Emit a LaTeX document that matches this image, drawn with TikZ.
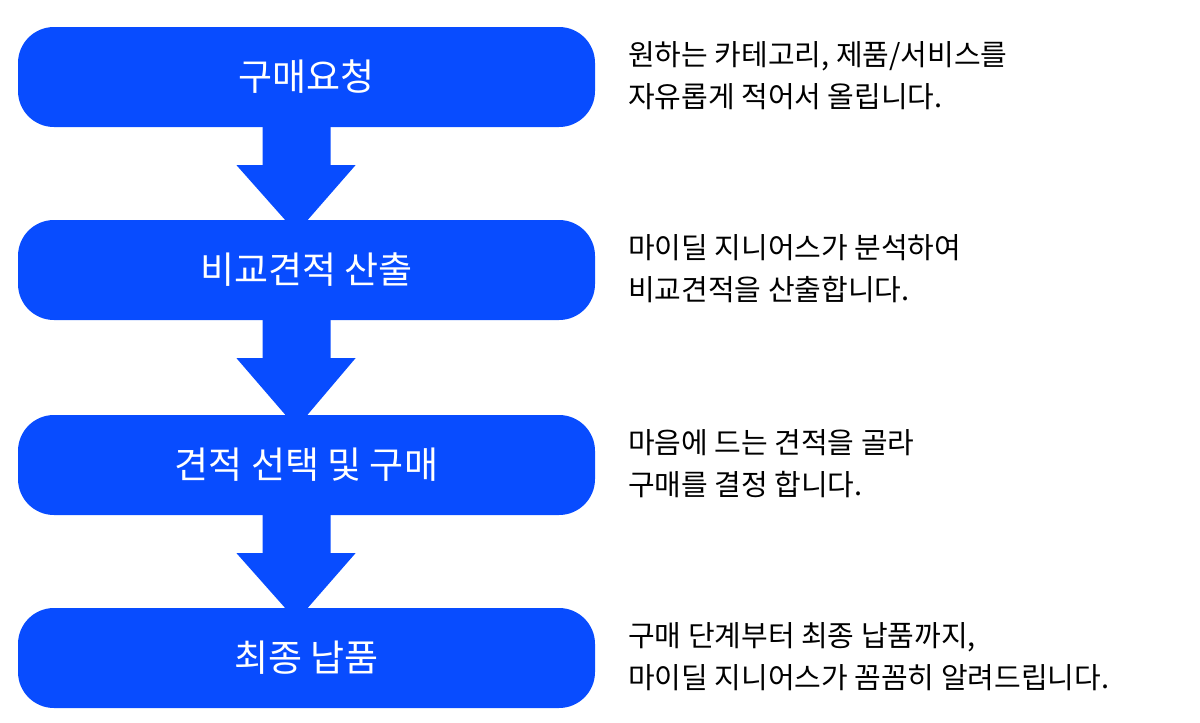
\documentclass[tikz,border=0pt]{standalone}
\usepackage{fontspec}
\setmainfont{Noto Sans CJK KR}
\definecolor{bl}{RGB}{8,76,255}
\begin{document}
\begin{tikzpicture}[x=1pt,y=-1pt,
  stepbox/.style={fill=bl,rounded corners=36pt,minimum width=577pt,minimum height=100pt,inner sep=0pt,text=white,font=\fontsize{37}{44}\selectfont},
  desc/.style={anchor=west,align=left,font=\fontsize{29}{42}\selectfont,inner sep=0pt},
  barrow/.style={fill=bl}]
\useasboundingbox (0,0) rectangle (1200,723);
\node[stepbox] (s1) at (306.5,77) {구매요청};
\node[stepbox] (s2) at (306.5,270) {비교견적 산출};
\node[stepbox] (s3) at (306.5,465) {견적 선택 및 구매};
\node[stepbox] (s4) at (306.5,658) {최종 납품};
\node[desc] (d1) at (628,76) {원하는 카테고리, 제품/서비스를\\자유롭게 적어서 올립니다.};
\node[desc] (d2) at (628,269) {마이딜 지니어스가 분석하여\\비교견적을 산출합니다.};
\node[desc] (d3) at (628,464) {마음에 드는 견적을 골라\\구매를 결정 합니다.};
\node[desc] (d4) at (628,657) {구매 단계부터 최종 납품까지,\\마이딜 지니어스가 꼼꼼히 알려드립니다.};
\foreach \a/\b in {s1/s2,s2/s3,s3/s4}{
  \fill[barrow] ([xshift=-44pt]\a.south) -- ([xshift=24pt]\a.south)
    -- ([xshift=24pt,yshift=-38pt]\a.south) -- ([xshift=49pt,yshift=-38pt]\a.south)
    -- ([xshift=-10pt,yshift=-13pt]\b.north) -- ([xshift=-70pt,yshift=-38pt]\a.south)
    -- ([xshift=-44pt,yshift=-38pt]\a.south) -- cycle;
}
\end{tikzpicture}
\end{document}
